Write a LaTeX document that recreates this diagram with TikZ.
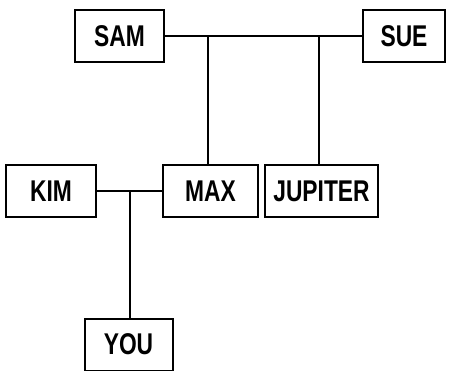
\documentclass[tikz,border=0pt]{standalone}
\usepackage{fontspec}
\setmainfont{Liberation Sans}[FakeStretch=0.76]
\begin{document}
\begin{tikzpicture}[x=1pt,y=1pt,
  person/.style={draw=black,line width=2pt,inner sep=0pt,minimum height=52pt,
    font=\fontsize{30}{32}\selectfont\bfseries},
  link/.style={line width=2pt,black}]
\useasboundingbox (0,0) rectangle (449,-371);
\node[person,minimum width=89pt] (SAM) at (119.5,-36) {SAM};
\node[person,minimum width=82pt] (SUE) at (404,-36) {SUE};
\node[person,minimum width=90pt] (KIM) at (51,-191) {KIM};
\node[person,minimum width=95pt] (MAX) at (210.5,-191) {MAX};
\node[person,minimum width=113pt] (JUP) at (321.5,-191) {JUPITER};
\node[person,minimum width=88pt] (YOU) at (128.5,-344.5) {YOU};
\coordinate (m1) at (208,-36);
\coordinate (m2) at (319,-36);
\coordinate (k1) at (130,-191);
\draw[link] (SAM.east) -- (SUE.west);
\draw[link] (m1) -- (m1 |- MAX.north);
\draw[link] (m2) -- (m2 |- JUP.north);
\draw[link] (KIM.east) -- (MAX.west);
\draw[link] (k1) -- (k1 |- YOU.north);
\end{tikzpicture}
\end{document}
